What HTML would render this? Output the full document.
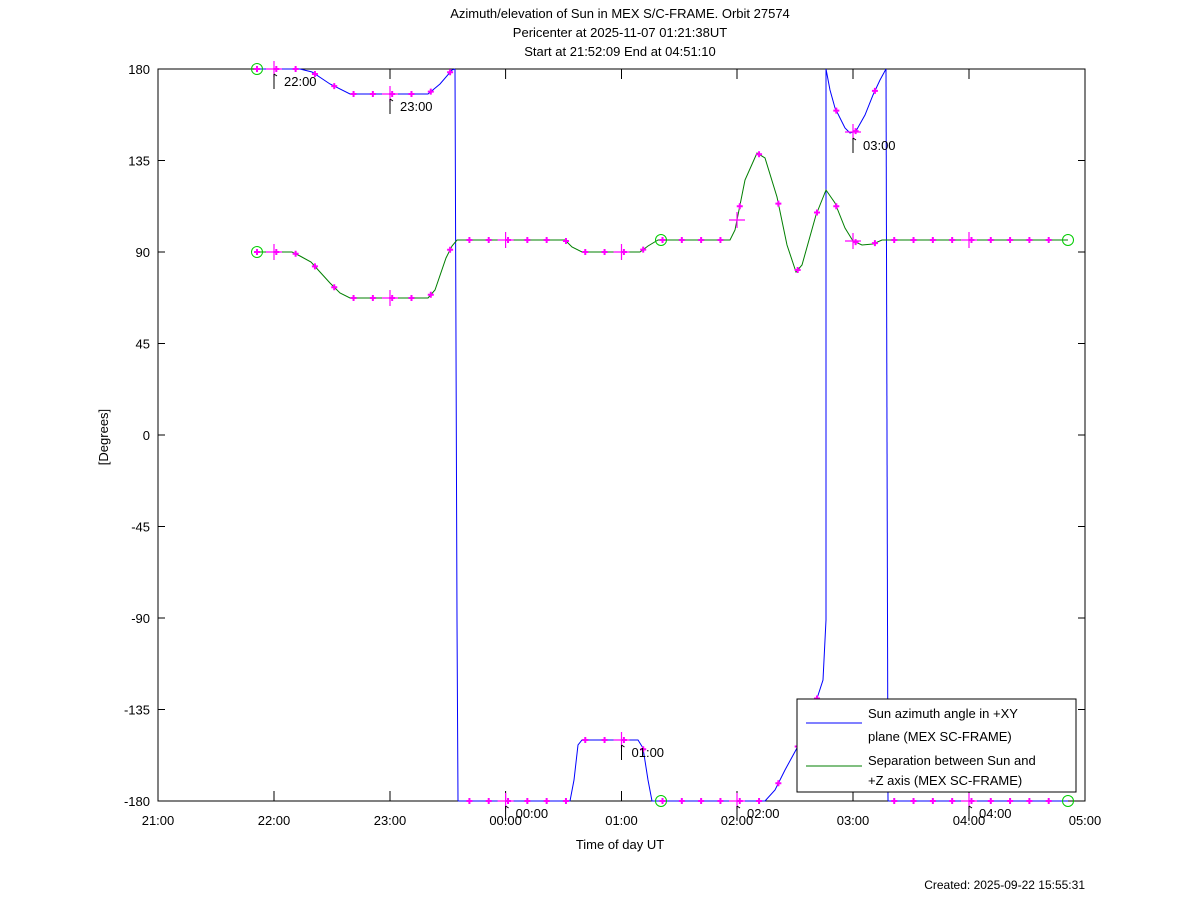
<!DOCTYPE html>
<html><head><meta charset="utf-8"><style>
body{margin:0;background:#fff}
svg{display:block;font-family:"Liberation Sans",sans-serif;font-size:13px}
</style></head><body>
<svg id="s" width="1200" height="901" xmlns="http://www.w3.org/2000/svg">
<rect width="1200" height="901" fill="#fff"/>
<text x="620" y="18" text-anchor="middle">Azimuth/elevation of Sun in MEX S/C-FRAME.  Orbit 27574</text>
<text x="620" y="37" text-anchor="middle">Pericenter at 2025-11-07 01:21:38UT</text>
<text x="620" y="56" text-anchor="middle">Start at 21:52:09 End at 04:51:10</text>
<rect x="158" y="69" width="927" height="732" fill="none" stroke="#000"/>
<g id="ticks" stroke="#000"></g>
<g id="lbl"></g>
<text x="620" y="849" text-anchor="middle">Time of day UT</text>
<text transform="translate(108,437) rotate(-90)" text-anchor="middle">[Degrees]</text>
<text x="1085" y="889" text-anchor="end" font-size="12">Created: 2025-09-22 15:55:31</text>
<g id="plot"></g>
<rect x="797" y="699" width="279" height="93" fill="#fff" stroke="#000"/>
<line x1="806" y1="723" x2="862" y2="723" stroke="#00f"/>
<line x1="806" y1="766" x2="862" y2="766" stroke="#007f00"/>
<text x="868" y="718">Sun azimuth angle in +XY</text>
<text x="868" y="741">plane (MEX SC-FRAME)</text>
<text x="868" y="765">Separation between Sun and</text>
<text x="868" y="785">+Z axis (MEX SC-FRAME)</text>
</svg>
<script>
var NS="http://www.w3.org/2000/svg";
function el(p,t,a,txt){var e=document.createElementNS(NS,t);for(var k in a)e.setAttribute(k,a[k]);if(txt)e.textContent=txt;document.getElementById(p).appendChild(e);return e;}
var hx=[158,274,390,505.6,621.5,737,853,969,1085],hl=["21:00","22:00","23:00","00:00","01:00","02:00","03:00","04:00","05:00"];
hx.forEach(function(x,i){el("ticks","line",{x1:x,y1:801,x2:x,y2:791});el("ticks","line",{x1:x,y1:69,x2:x,y2:79});
el("lbl","text",{x:x,y:825,"text-anchor":"middle"},hl[i]);});
for(var d=-180;d<=180;d+=45){var y=435-d*2.0333;el("ticks","line",{x1:158,y1:y,x2:165,y2:y});el("ticks","line",{x1:1085,y1:y,x2:1078,y2:y});
el("lbl","text",{x:150,y:y+5,"text-anchor":"end"},String(d));}
var blue=[
[[257,69],[300,69],[312,72],[330,84],[350,94],[428,94],[440,84],[452,70],[455,69]],
[[458,801],[570,801],[574,780],[578,745],[582,740],[638,740],[643,748],[648,780],[652,801],[765,801],[775,790],[785,770],[797,748],[810,720],[823,680],[826,620]],
[[826,69],[830,90],[835,108],[845,128],[850,133],[856,131],[865,115],[873,95],[880,80],[886,69]],
[[888,801],[1068,801]]];
var green=[[[257,252],[292,252],[300,256],[311,262],[320,272],[330,283],[340,293],[350,298],[428,298],[435,290],[446,258],[452,246],[457,240],[565,240],[572,247],[582,252],[640,252],[648,246],[658,240],[730,240],[735,230],[745,180],[757,153],[765,158],[777,197],[787,245],[796,272],[802,265],[816,215],[826,190],[835,203],[845,228],[853,241],[862,245],[873,244],[882,240],[890,240],[1068,240]]];
function pts(a){return a.map(function(p){return p[0]+","+p[1]}).join(" ");}
el("plot","polyline",{points:"455,69 457,620 458,801",fill:"none",stroke:"#00f"});
el("plot","polyline",{points:"826,620 826,69",fill:"none",stroke:"#00f"});
el("plot","polyline",{points:"886,69 888,801",fill:"none",stroke:"#00f"});
blue.forEach(function(a){el("plot","polyline",{points:pts(a),fill:"none",stroke:"#00f"});});
green.forEach(function(a){el("plot","polyline",{points:pts(a),fill:"none",stroke:"#007f00"});});
function yat(set,x){for(var i=0;i<set.length;i++){var a=set[i];if(x>=a[0][0]&&x<=a[a.length-1][0]){for(var j=0;j<a.length-1;j++){if(x>=a[j][0]&&x<=a[j+1][0]){var t=(x-a[j][0])/((a[j+1][0]-a[j][0])||1);return a[j][1]+t*(a[j+1][1]-a[j][1]);}}}}return null;}
function dot(x,y){el("plot","path",{d:"M"+(x-3)+","+y+"h6M"+x+","+(y-3)+"v6",stroke:"#f0f","stroke-width":2});}
function plus(x,y){el("plot","path",{d:"M"+(x-8)+","+y+"h16M"+x+","+(y-8)+"v16",stroke:"#f0f","stroke-width":1.2});}
[blue,green].forEach(function(s){
for(var k=0;k<=42;k++){var x=257+k*19.31;var y=yat(s,x);if(y!==null)dot(x,y);}
[274,390,505.6,621.5,737,853,969].forEach(function(x){var y=yat(s,x);if(y!==null)plus(x,y);});
[257,661,1068].forEach(function(x){var y=yat(s,x);if(y!==null)el("plot","circle",{cx:x,cy:y,r:5.5,fill:"none",stroke:"#0c0"});});
});
[[274,69,"22:00"],[390,94,"23:00"],[505.6,801,"00:00"],[621.5,740,"01:00"],[737,801,"02:00"],[853,133,"03:00"],[969,801,"04:00"]].forEach(function(h){
var x=h[0],y=h[1];el("plot","path",{d:"M"+x+","+(y+5)+"v15M"+x+","+(y+5)+"l3,2",stroke:"#000",fill:"none"});
el("plot","text",{x:x+10,y:y+17},h[2]);});
</script>
</body></html>
